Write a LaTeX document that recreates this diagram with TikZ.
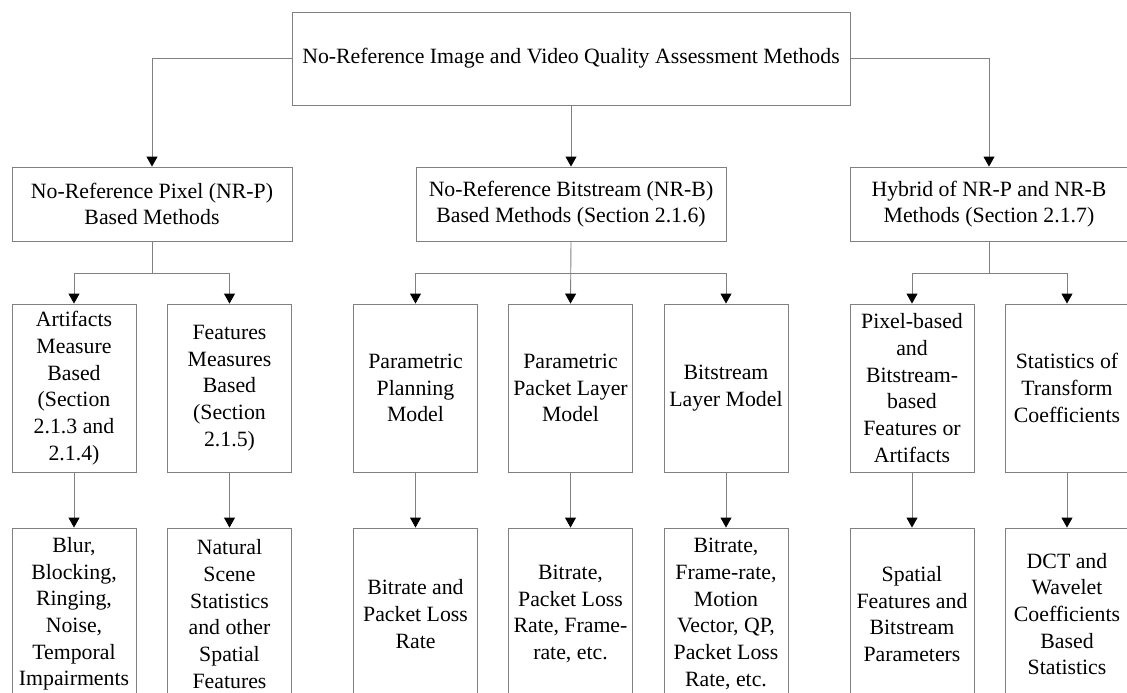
\documentclass[tikz,border=0pt]{standalone}
\usepackage{fontspec}
\setmainfont{Liberation Serif}
\usetikzlibrary{arrows.meta}
\definecolor{linegray}{RGB}{128,128,128}
\begin{document}
\begin{tikzpicture}[x=1pt,y=-1pt,
  box/.style={draw=linegray, line width=0.9pt, inner sep=0pt, align=center,
    font=\fontsize{21.8pt}{26.7pt}\selectfont},
  lvthree/.style={box, minimum width=124pt, minimum height=168pt},
  conn/.style={draw=linegray, line width=0.9pt},
  arr/.style={conn, -{Triangle[length=10pt,width=11pt,color=black]}}]
\useasboundingbox (0,0) rectangle (1127,693);
% top
\node[box, minimum width=558pt, minimum height=93pt] (top) at (571,58.5)
  {No-Reference Image and Video Quality Assessment Methods};
% level 2
\node[box, minimum width=280pt, minimum height=74pt] (pix) at (152,204)
  {No-Reference Pixel (NR-P)\\Based Methods};
\node[box, minimum width=310pt, minimum height=74pt] (bit) at (571,204)
  {No-Reference Bitstream (NR-B)\\Based Methods (Section 2.1.6)};
\node[box, minimum width=278pt, minimum height=74pt] (hyb) at (989,204)
  {Hybrid of NR-P and NR-B\\Methods (Section 2.1.7)};
% level 3
\node[lvthree] (art) at (74,388) {Artifacts\\Measure\\Based\\(Section\\2.1.3 and\\2.1.4)};
\node[lvthree] (fea) at (229.5,388) {Features\\Measures\\Based\\(Section\\2.1.5)};
\node[lvthree] (ppm) at (415.5,388) {Parametric\\Planning\\Model};
\node[lvthree] (plm) at (570.5,388) {Parametric\\Packet Layer\\Model};
\node[lvthree] (blm) at (726,388) {Bitstream\\Layer Model};
\node[lvthree] (pbf) at (912,388) {Pixel-based\\and\\Bitstream-\\based\\Features or\\Artifacts};
\node[lvthree] (stc) at (1067,388) {Statistics of\\Transform\\Coefficients};
% level 4
\node[lvthree, minimum height=172pt] (blur) at (74,614) {Blur,\\Blocking,\\Ringing,\\Noise,\\Temporal\\Impairments};
\node[lvthree, minimum height=172pt] (nss) at (229.5,614) {Natural\\Scene\\Statistics\\and other\\Spatial\\Features};
\node[lvthree, minimum height=172pt] (bpl) at (415.5,614) {Bitrate and\\Packet Loss\\Rate};
\node[lvthree, minimum height=172pt] (bpf) at (570.5,614) {Bitrate,\\Packet Loss\\Rate, Frame-\\rate, etc.};
\node[lvthree, minimum height=172pt] (bfm) at (726,614) {Bitrate,\\Frame-rate,\\Motion\\Vector, QP,\\Packet Loss\\Rate, etc.};
\node[lvthree, minimum height=172pt] (sfb) at (912,614) {Spatial\\Features and\\Bitstream\\Parameters};
\node[lvthree, minimum height=172pt] (dct) at (1067,614) {DCT and\\Wavelet\\Coefficients\\Based\\Statistics};
% connectors top -> level 2
\draw[arr] (top.west) -| (pix.north);
\draw[arr] (top.south) -- (bit.north);
\draw[arr] (top.east) -| (hyb.north);
% level 2 -> level 3
\coordinate (jp) at (152,273);
\coordinate (jb) at (571,273);
\coordinate (jh) at (989,273);
\draw[conn] (pix.south) -- (jp);
\draw[arr] (jp) -| (art.north);
\draw[arr] (jp) -| (fea.north);
\draw[arr] (bit.south) -- (plm.north);
\draw[arr] (jb) -| (ppm.north);
\draw[arr] (jb) -| (blm.north);
\draw[conn] (hyb.south) -- (jh);
\draw[arr] (jh) -| (pbf.north);
\draw[arr] (jh) -| (stc.north);
% level 3 -> level 4
\draw[arr] (art.south) -- (blur.north);
\draw[arr] (fea.south) -- (nss.north);
\draw[arr] (ppm.south) -- (bpl.north);
\draw[arr] (plm.south) -- (bpf.north);
\draw[arr] (blm.south) -- (bfm.north);
\draw[arr] (pbf.south) -- (sfb.north);
\draw[arr] (stc.south) -- (dct.north);
\end{tikzpicture}
\end{document}
